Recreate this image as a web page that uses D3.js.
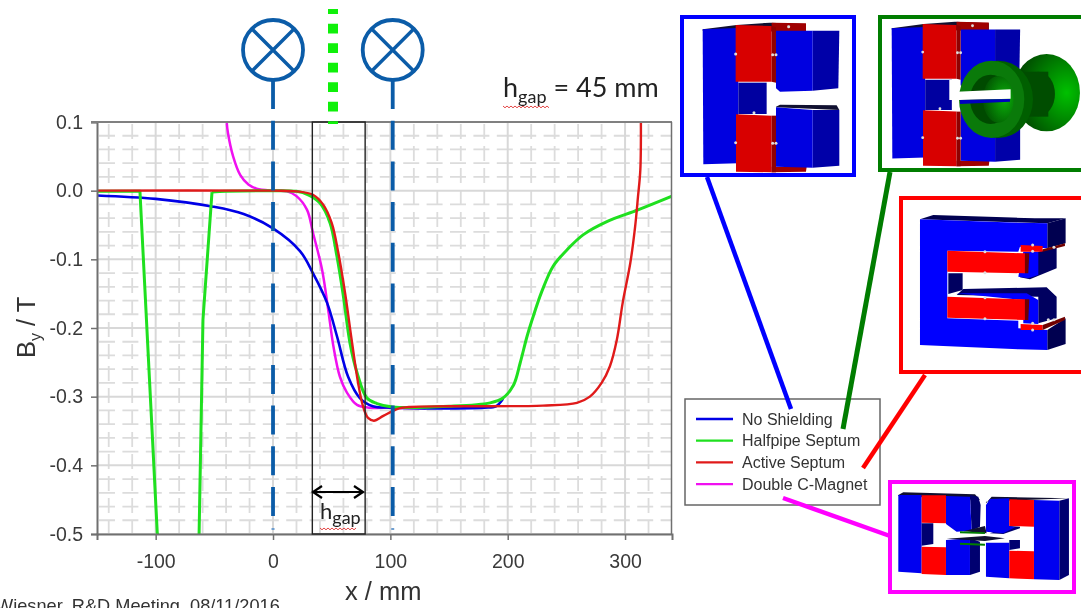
<!DOCTYPE html>
<html><head><meta charset="utf-8">
<script src="https://cdn.jsdelivr.net/npm/d3@7"></script>
<style>
html,body{margin:0;padding:0;background:#fff;overflow:hidden}
svg{display:block;filter:blur(.45px)}
text{font-family:"Liberation Sans",Arial,sans-serif}
.cal{font-family:Lato,"Open Sans",sans-serif}
</style></head><body>
<svg id="c" width="1081" height="608"></svg>
<script>
const xTicks=[-100,0,100,200,300];
const yTicks=[0.1,0,-0.1,-0.2,-0.3,-0.4,-0.5];
const xMinor=[-140,-120,-80,-60,-40,-20,20,40,60,80,120,140,160,180,220,240,260,280,320];
const yMinor=[0.08,0.06,0.04,0.02,-0.02,-0.04,-0.06,-0.08,-0.12,-0.14,-0.16,-0.18,-0.22,-0.24,-0.26,-0.28,-0.32,-0.34,-0.36,-0.38,-0.42,-0.44,-0.46,-0.48];
const coilPositions=[0,102];
const gapEdges=[33.5,78.5];

const magnetX=[-39.5,-38.4,-34,-28,-21,-14,0,12,20,29,34,41.8,47,51.5,57,63,71.6,83,102,130];
const magnetY=[0.1,0.084,0.05,0.023,0.009,0.003,0,-0.001,-0.008,-0.028,-0.061,-0.115,-0.173,-0.227,-0.271,-0.294,-0.312,-0.316,-0.316,-0.317];
const noShieldX=[-150,-100,-52,-25,0,23,34,46,54.5,64,74,85,102,150,180,190,196];
const noShieldY=[-0.007,-0.012,-0.023,-0.034,-0.055,-0.088,-0.12,-0.163,-0.212,-0.271,-0.302,-0.314,-0.316,-0.317,-0.316,-0.314,-0.303];
const halfpipeX=[-150,-113.4,-98.6,-80,-63,-59.7,-52,-40,0,20,30,40,48.6,54.5,60,65.6,71.6,80,88.6,102,150,185,196,205,210.6,216.5,220.8,229,238.7,250.6,264.5,284.5,311,340];
const halfpipeY=[-0.001,-0.001,-0.5,-0.8,-0.5,-0.188,-0.002,-0.001,0,-0.001,-0.006,-0.018,-0.047,-0.096,-0.154,-0.222,-0.265,-0.302,-0.31,-0.315,-0.314,-0.309,-0.302,-0.283,-0.251,-0.212,-0.188,-0.147,-0.11,-0.086,-0.064,-0.045,-0.028,-0.008];
const activeX=[-150,0,20,34,42.6,50,55.6,61.4,67,72.5,76.7,81,86,94,105.7,116.8,150,230,259,270,280,287,293,298,304.5,308.6,311,313,313.5];
const activeY=[0,0,-0.001,-0.006,-0.02,-0.047,-0.09,-0.149,-0.217,-0.28,-0.314,-0.331,-0.335,-0.328,-0.318,-0.315,-0.314,-0.313,-0.309,-0.3,-0.28,-0.256,-0.217,-0.163,-0.105,-0.052,-0.009,0.03,0.1];

const legendNames=["No Shielding","Halfpipe Septum","Active Septum","Double C-Magnet"];
const legendColors=["#0000e6","#1fe01f","#e01a1a","#f010f0"];
const lineWidths=[2.6,3,2.4,2.5];
const xTickLabels=["-100","0","100","200","300"];

const svg=d3.select("#c");
const x=d3.scaleLinear().domain([-150,340]).range([97,672]);
const y=d3.scaleLinear().domain([-0.5,0.1]).range([534,122]);
const fmt=d=>d3.format(".1f")(d).replace("\u2212","-");

const defs=svg.append("defs");
defs.append("clipPath").attr("id","plot").append("rect").attr("x",97).attr("y",122).attr("width",575).attr("height",412);
const bell=defs.append("radialGradient").attr("id","bell").attr("cx",.8).attr("cy",.5).attr("r",.85);
bell.append("stop").attr("offset",0).attr("stop-color","#00c000");
bell.append("stop").attr("offset",1).attr("stop-color","#003a00");
const inner=defs.append("radialGradient").attr("id","inner").attr("cx",.7).attr("cy",.5).attr("r",.8);
inner.append("stop").attr("offset",0).attr("stop-color","#0ab00a");
inner.append("stop").attr("offset",1).attr("stop-color","#004400");

// grid
const grid=svg.append("g");
grid.selectAll(".vm").data(xMinor).join("line").attr("x1",d=>x(d)).attr("x2",d=>x(d)).attr("y1",124).attr("y2",534)
 .attr("stroke","#dcdcdc").attr("stroke-width",1.8).attr("stroke-dasharray","15 7");
grid.selectAll(".hm").data(yMinor).join("line").attr("x1",99).attr("x2",672).attr("y1",d=>y(d)).attr("y2",d=>y(d))
 .attr("stroke","#dcdcdc").attr("stroke-width",1.8).attr("stroke-dasharray","16 7.4");
grid.selectAll(".vM").data(xTicks).join("line").attr("x1",d=>x(d)).attr("x2",d=>x(d)).attr("y1",122).attr("y2",534)
 .attr("stroke","#d8d8d8").attr("stroke-width",2);
grid.selectAll(".hM").data(yTicks).join("line").attr("x1",97).attr("x2",672).attr("y1",d=>y(d)).attr("y2",d=>y(d))
 .attr("stroke","#d8d8d8").attr("stroke-width",2);

// curves
const line=d3.line().x(d=>x(d[0])).y(d=>y(d[1])).curve(d3.curveCatmullRom.alpha(.5));
const straight=d3.line().x(d=>x(d[0])).y(d=>y(d[1]));
const zip=(a,b)=>a.map((v,i)=>[v,b[i]]);
const plot=svg.append("g").attr("clip-path","url(#plot)");
const drawCurve=(xs,ys,i,gen)=>plot.append("path").attr("d",(gen||line)(zip(xs,ys))).attr("fill","none")
  .attr("stroke",legendColors[i]).attr("stroke-width",lineWidths[i]).attr("stroke-linejoin","round");
drawCurve(magnetX,magnetY,3);
drawCurve(noShieldX,noShieldY,0);
drawCurve(halfpipeX.slice(0,7),halfpipeY.slice(0,7),1,straight);
drawCurve(halfpipeX.slice(6),halfpipeY.slice(6),1);
drawCurve(activeX,activeY,2);

// axes
const ax=svg.append("g").attr("transform","translate(0,534)").call(d3.axisBottom(x).tickValues(xTicks).tickFormat((d,i)=>xTickLabels[i]).tickSize(6).tickPadding(14));
const ay=svg.append("g").attr("transform","translate(97,0)").call(d3.axisLeft(y).tickValues(yTicks).tickFormat(fmt).tickSize(6).tickPadding(8));
[ax,ay].forEach(a=>{a.selectAll("text").attr("font-size",19.5).attr("fill","#3a3a3a").style("font-family",'"Liberation Sans"');
 a.selectAll("line").attr("stroke","#707070").attr("stroke-width",1.5);
 a.select(".domain").attr("stroke","#707070").attr("stroke-width",2);});
svg.append("line").attr("x1",91).attr("x2",672).attr("y1",122).attr("y2",122).attr("stroke","#808080").attr("stroke-width",2);
svg.append("line").attr("x1",671.5).attr("x2",671.5).attr("y1",122).attr("y2",534).attr("stroke","#707070").attr("stroke-width",1.5);

// axis titles
svg.append("text").attr("x",345).attr("y",600).attr("font-size",25.5).attr("fill","#333").text("x / mm");
const yl=svg.append("text").attr("transform","translate(35,358) rotate(-90)").attr("font-size",25.5).attr("fill","#333");
yl.append("tspan").text("B");
yl.append("tspan").attr("font-size",16).attr("dy",6).text("y");
yl.append("tspan").attr("dy",-6).text(" / T");

// gap box
svg.append("rect").attr("x",x(gapEdges[0])).attr("y",122).attr("width",x(gapEdges[1])-x(gapEdges[0])).attr("height",412)
 .attr("fill","none").attr("stroke","#222").attr("stroke-width",1.4);
const ar=svg.append("g").attr("fill","none").attr("stroke","#000").attr("stroke-width",2.2);
ar.append("line").attr("x1",x(gapEdges[0])+2).attr("x2",x(gapEdges[1])-2).attr("y1",492).attr("y2",492);
ar.append("path").attr("d","M322,486L313,492L322,498M354,486L363,492L354,498");

function hgap(px,py,fs,fsub,rest,sq){
 const t=svg.append("text").attr("class","cal").attr("x",px).attr("y",py).attr("font-size",fs).attr("fill","#222");
 t.append("tspan").text("h");
 t.append("tspan").attr("font-size",fsub).attr("dy",fs*.24).text("gap");
 if(rest)t.append("tspan").attr("dy",-fs*.24).attr("font-size",fs).text(rest);
 let p="M"+sq[0]+","+sq[2];
 for(let i=sq[0]+2,k=0;i<=sq[1];i+=2,k++)p+="L"+i+","+(sq[2]+(k%2?0:1.8));
 svg.append("path").attr("d",p).attr("fill","none").attr("stroke","#e03030").attr("stroke-width",.9);
}
hgap(320,519,22,18,null,[320,357,528]);
hgap(503,97,27,18," = 45 mm",[503,549,106]);

// coil lines
const coil="#0b5ca8";
coilPositions.forEach(p=>{
 const cx=x(p);
 svg.append("line").attr("x1",cx).attr("x2",cx).attr("y1",80).attr("y2",517).attr("stroke",coil).attr("stroke-width",3.8).attr("stroke-dasharray","29 11.7");
 svg.append("rect").attr("x",cx-1.5).attr("y",528).attr("width",3).attr("height",2).attr("fill","#6f9fd0");
 svg.append("circle").attr("cx",cx).attr("cy",50).attr("r",30).attr("fill","#fff").attr("stroke",coil).attr("stroke-width",3.8);
 const r=30*Math.SQRT1_2;
 svg.append("path").attr("d",`M${cx-r},${50-r}L${cx+r},${50+r}M${cx+r},${50-r}L${cx-r},${50+r}`).attr("stroke",coil).attr("stroke-width",3.4);
});
svg.append("line").attr("x1",333).attr("x2",333).attr("y1",9).attr("y2",124).attr("stroke","#0ff00a").attr("stroke-width",10).attr("stroke-dasharray","9.7 9.8").attr("stroke-dashoffset",4.7);

// footer
svg.append("text").attr("x",-4).attr("y",612).attr("font-size",18.2).attr("fill","#333").text("Wiesner, R&D Meeting, 08/11/2016");

// legend box
svg.append("rect").attr("x",685).attr("y",399).attr("width",195).attr("height",106).attr("fill","#fff").attr("stroke","#666").attr("stroke-width",1.5);

// leader lines
const leaders=[["#0000ff",707,177,791,409,4.5],["#007d00",890,172,843,429,5],["#ff0000",925,375,863,468,4.5],["#ff00ff",783,498,890,536,4.5]];
svg.selectAll(".lead").data(leaders).join("line").attr("x1",d=>d[1]).attr("y1",d=>d[2]).attr("x2",d=>d[3]).attr("y2",d=>d[4]).attr("stroke",d=>d[0]).attr("stroke-width",d=>d[5]);

// legend entries
const lg=svg.selectAll(".lg").data(legendNames).join("g").attr("transform",(d,i)=>`translate(0,${419+i*21.7})`);
lg.append("line").attr("x1",696).attr("x2",733).attr("stroke",(d,i)=>legendColors[i]).attr("stroke-width",2.3);
lg.append("text").attr("x",742).attr("y",5.5).attr("font-size",16).attr("fill","#333").text(d=>d);

// picture frames
const frames=[["#0000ff",682,17,172,158],["#007d00",880,17,215,153],["#ff0000",901,198,195,174],["#ff00ff",890,482,184,110]];
svg.selectAll(".fr").data(frames).join("rect").attr("x",d=>d[1]).attr("y",d=>d[2]).attr("width",d=>d[3]).attr("height",d=>d[4]).attr("fill","#fff").attr("stroke",d=>d[0]).attr("stroke-width",4);

function polys(g,list){list.forEach(([c,p])=>g.append("polygon").attr("points",p).attr("fill",c));}
function ticks(g,pts){g.selectAll(".t").data(pts).join("circle").attr("cx",d=>d[0]).attr("cy",d=>d[1]).attr("r",4.5).attr("fill","#ddd");}

function cMagnet(g){
 polys(g,[
 ["#101030","98,88 200,75 300,68 408,72 408,95 98,92"],
 ["#a00000","305,68 408,70 408,95 305,95"],
 ["#0000e0","98,88 205,84 205,490 100,493"],
 ["#0000a0","205,248 290,248 290,342 205,342"],
 ["#0000a8","428,92 508,92 505,265 428,272"],
 ["#0000e0","318,92 428,92 428,272 330,275 318,265"],
 ["#101030","318,320 330,314 500,316 508,330 318,322"],
 ["#0000a8","428,330 508,330 508,497 428,503"],
 ["#a00000","305,500 410,500 408,515 305,517"],
 ["#0000e0","318,322 428,330 428,503 318,500"],
 ["#d80000","197,75 305,78 305,245 197,245"],
 ["#900000","305,78 318,82 318,248 305,245"],
 ["#d80000","198,343 305,347 305,517 198,515"],
 ["#900000","305,347 318,347 318,517 305,517"]
 ]);
 ticks(g,[[197,162],[308,164],[318,164],[356,80],[197,428],[308,430],[318,430],[252,338]]);
}
const m1=svg.append("g").attr("transform","translate(670,0) scale(.3333)");
cMagnet(m1);
const m2=svg.append("g").attr("transform","translate(670,0) scale(.3333)");
cMagnet(m2.append("g").attr("transform","translate(573,0) scale(.94,.965)"));
m2.append("ellipse").attr("cx",1130).attr("cy",278).attr("rx",100).attr("ry",116).attr("fill","url(#bell)");
m2.append("rect").attr("x",1040).attr("y",215).attr("width",95).attr("height",135).attr("fill","#004d00");
m2.append("ellipse").attr("cx",1105).attr("cy",282).attr("rx",50).attr("ry",67).attr("fill","#004d00");
m2.append("ellipse").attr("cx",985).attr("cy",298).attr("rx",104).attr("ry",116).attr("fill","#005f00");
m2.append("ellipse").attr("cx",965).attr("cy",298).attr("rx",98).attr("ry",116).attr("fill","#0a7a0a");
m2.append("ellipse").attr("cx",962).attr("cy",298).attr("rx",62).attr("ry",74).attr("fill","#004a00");
m2.append("ellipse").attr("cx",985).attr("cy",298).attr("rx",46).attr("ry",70).attr("fill","url(#inner)");
polys(m2,[["#fff","860,275 1022,268 1022,296 870,300 838,300 838,240 870,240"],["#0000c0","870,300 1020,297 1020,305 870,312"]]);

const m3=svg.append("g").attr("transform","translate(670,190) scale(.3333)");
polys(m3,[
 ["#000050","750,88 790,75 1095,85 1187,85 1132,100"],
 ["#000050","1132,100 1187,85 1187,160 1132,175"],
 ["#000050","1132,420 1187,385 1187,462 1132,480"],
 ["#0000ff","750,88 1045,98 1132,100 1132,175 1050,170 1045,185 832,182 832,385 1045,392 1045,415 1132,420 1132,480 1045,478 750,465"],
 ["#000060","835,250 878,250 878,300 835,312"],
 ["#000060","1105,185 1160,170 1160,235 1080,268 1050,262"],
 ["#0000ff","1060,185 1105,185 1105,255 1075,265 1045,260"],
 ["#000060","880,297 1130,292 1160,320 1160,385 1105,400 1105,320 860,315"],
 ["#0000ff","858,310 1070,310 1105,330 1105,402 1060,400 1060,330"],
 ["#ff0000","832,182 1065,190 1065,250 832,245"],
 ["#700000","1065,190 1078,190 1075,250 1065,250"],
 ["#ff0000","832,320 1065,328 1065,390 832,383"],
 ["#700000","1065,328 1078,328 1075,390 1065,390"],
 ["#ff0000","1052,165 1118,168 1118,185 1052,185"],
 ["#700000","1118,178 1185,160 1185,168 1118,185"],
 ["#ff0000","1052,402 1118,405 1118,420 1052,420"],
 ["#700000","1118,405 1185,380 1185,390 1118,420"]
]);
ticks(m3,[[945,185],[945,248],[945,323],[945,386],[1088,165],[1088,184],[1152,172],[1088,400],[1088,420],[1135,389],[1152,389]]);

const m4=svg.append("g").attr("transform","translate(670,390) scale(.3333)");
polys(m4,[
 ["#101030","685,315 700,307 915,313 930,330 685,318"],
 ["#101030","948,340 965,320 1197,325 948,335"],
 ["#0000f0","685,315 755,315 755,550 685,545"],
 ["#000070","755,400 790,400 790,462 755,467"],
 ["#000070","900,315 925,320 932,345 930,410 905,422"],
 ["#0000f0","828,318 900,320 905,422 860,425 828,402"],
 ["#000070","900,445 930,455 930,545 900,555"],
 ["#0000f0","828,450 900,445 900,555 828,555"],
 ["#ff0000","755,316 828,316 828,400 755,398"],
 ["#ff0000","755,470 828,472 828,555 755,552"],
 ["#000070","1168,332 1197,325 1197,555 1168,570"],
 ["#0000f0","1092,330 1168,332 1168,570 1092,568"],
 ["#000070","1018,408 1050,410 1050,415 1000,432 960,430"],
 ["#0000f0","948,345 960,327 1018,325 1018,408 1035,412 1000,430 948,425"],
 ["#000070","1018,450 1050,450 1050,475 1018,480"],
 ["#0000f0","948,458 1018,458 1018,565 948,560"],
 ["#ff0000","1018,328 1092,330 1092,410 1018,408"],
 ["#ff0000","1018,482 1092,484 1092,568 1018,565"],
 ["#101030","880,424 945,408 950,430"],
 ["#101030","830,446 945,438 1005,445 945,453"],
 ["#007d00","870,424 945,427 945,432 870,430"],
 ["#007d00","870,458 945,461 945,467 870,464"]
]);
</script>
</body></html>
